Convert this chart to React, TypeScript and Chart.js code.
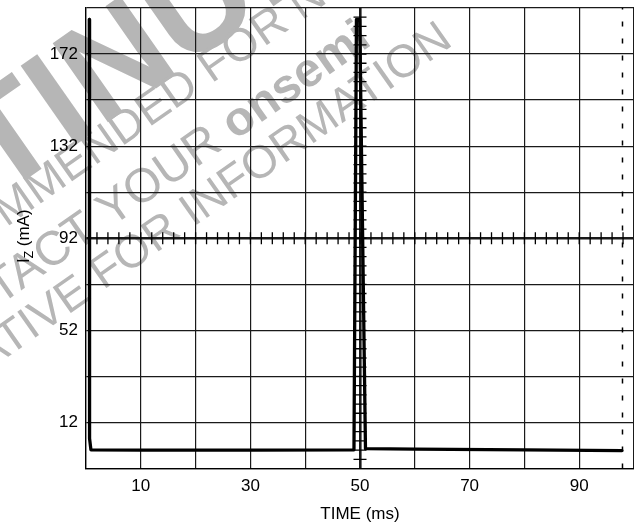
import React, { useEffect, useRef } from "react";
import { Chart, registerables } from "chart.js";

Chart.register(...registerables);

// ---- data ----
const traceTime = [0.6, 0.65, 0.9, 10, 30, 48.9, 49.35, 49.95, 51.0, 60, 80, 97.8];
const traceCurrent = [187, 5, 0.1, 0.0, 0.0, 0.1, 187, 187, 0.6, 0.4, 0.1, -0.2];
const xLabelValues = [10, 30, 50, 70, 90];
const yLabelValues = [12, 52, 92, 132, 172];
const cursorTime = [97.9, 97.9];
const cursorCurrent = [-8, 192];

const X_MIN = 0;
const X_MAX = 100;
const Y_MIN = -8;
const Y_MAX = 192;
const X_CENTER = 50;
const Y_CENTER = 92;
const X_MINOR = 2;
const Y_MINOR = 4;

const FONT = "'Liberation Sans', Arial, sans-serif";
const FS = 17;
const WM_FONT = "'Liberation Sans', Arial, sans-serif";
const WM_ANGLE = (-35 * Math.PI) / 180;

const watermarkPlugin = {
  id: "watermark",
  beforeDraw(chart: any) {
    const ctx: CanvasRenderingContext2D = chart.ctx;
    ctx.save();
    ctx.fillStyle = "rgb(182,182,182)";
    ctx.rotate(WM_ANGLE);
    ctx.textAlign = "left";
    ctx.textBaseline = "alphabetic";

    const anchored = (text: string, idx: number, start: number, base: number) => {
      const x = start - ctx.measureText(text.slice(0, idx)).width;
      ctx.fillText(text, x, base);
      return x;
    };

    ctx.font = `bold 140px ${WM_FONT}`;
    anchored("DISCONTINUED", 7, -30, 162);

    ctx.font = `46px ${WM_FONT}`;
    anchored("NOT RECOMMENDED FOR NEW DESIGN", 11, -18, 190);

    ctx.font = `48px ${WM_FONT}`;
    const l3 = "PLEASE CONTACT YOUR ";
    const x3 = anchored(l3, 15, -40, 250);
    const w3 = ctx.measureText(l3).width;
    ctx.font = `bold 48px ${WM_FONT}`;
    ctx.fillText("onsemi", x3 + w3, 250);

    ctx.font = `46px ${WM_FONT}`;
    anchored("REPRESENTATIVE FOR INFORMATION", 19, 28, 297);
    ctx.restore();
  },
};

const overlayPlugin = {
  id: "overlay",
  afterDraw(chart: any) {
    const ctx: CanvasRenderingContext2D = chart.ctx;
    const x = chart.scales.x;
    const y = chart.scales.y;
    const cx = x.getPixelForValue(X_CENTER);
    const cy = y.getPixelForValue(Y_CENTER);
    ctx.save();
    ctx.strokeStyle = "#000";
    ctx.lineWidth = 1.3;
    ctx.beginPath();
    for (let t = X_MIN + X_MINOR; t < X_MAX; t += X_MINOR) {
      const px = x.getPixelForValue(t);
      ctx.moveTo(px, cy - 6);
      ctx.lineTo(px, cy + 6);
    }
    for (let v = Y_MIN + Y_MINOR; v < Y_MAX; v += Y_MINOR) {
      const py = y.getPixelForValue(v);
      ctx.moveTo(cx - 6.5, py);
      ctx.lineTo(cx + 6.5, py);
    }
    ctx.stroke();

    // y-axis title with subscript
    ctx.fillStyle = "#000";
    ctx.translate(29, y.getPixelForValue(Y_CENTER) - 2);
    ctx.rotate(-Math.PI / 2);
    ctx.textAlign = "left";
    ctx.textBaseline = "alphabetic";
    ctx.font = `${FS}px ${FONT}`;
    const wI = ctx.measureText("I").width;
    const wR = ctx.measureText(" (mA)").width;
    ctx.font = `12px ${FONT}`;
    const wZ = ctx.measureText("Z").width;
    const x0 = -(wI + wZ + wR) / 2;
    ctx.font = `${FS}px ${FONT}`;
    ctx.fillText("I", x0, 0);
    ctx.font = `12px ${FONT}`;
    ctx.fillText("Z", x0 + wI, 3.5);
    ctx.font = `${FS}px ${FONT}`;
    ctx.fillText(" (mA)", x0 + wI + wZ, 0);
    ctx.restore();
  },
};

export default function App() {
  const ref = useRef<HTMLCanvasElement>(null);
  useEffect(() => {
    const canvas = ref.current;
    if (!canvas) return;
    const chart = new Chart(canvas, {
      type: "scatter",
      data: {
        datasets: [
          {
            data: traceTime.map((t, i) => ({ x: t, y: traceCurrent[i] })),
            showLine: true,
            borderColor: "#000",
            borderWidth: 3.3,
            pointRadius: 0,
            borderJoinStyle: "round",
            borderCapStyle: "round",
            tension: 0,
          },
          {
            data: cursorTime.map((t, i) => ({ x: t, y: cursorCurrent[i] })),
            showLine: true,
            borderColor: "#000",
            borderWidth: 1.5,
            borderDash: [5, 12],
            pointRadius: 0,
          },
        ],
      } as any,
      options: {
        animation: false,
        responsive: false,
        maintainAspectRatio: false,
        events: [],
        layout: { padding: { top: 8, left: 0, right: 0, bottom: 0 } },
        plugins: {
          legend: { display: false },
          tooltip: { enabled: false },
          title: { display: false },
        },
        scales: {
          x: {
            type: "linear",
            min: X_MIN,
            max: X_MAX,
            ticks: {
              stepSize: 10,
              autoSkip: false,
              maxRotation: 0,
              color: "#000",
              font: { family: FONT, size: FS },
              padding: 8,
              callback: (v: any) => (xLabelValues.includes(Number(v)) ? String(v) : ""),
            },
            grid: {
              color: "#1a1a1a",
              lineWidth: (c: any) => (c.tick && c.tick.value === X_CENTER ? 2.6 : 1.2),
              drawTicks: false,
            },
            border: { display: true, color: "#000", width: 1.3 },
            title: {
              display: true,
              text: "TIME (ms)",
              color: "#000",
              font: { family: FONT, size: FS },
              padding: { top: 0, bottom: 4 },
            },
            afterFit: (s: any) => {
              s.height = 60.5;
              s.paddingLeft = 0;
              s.paddingRight = 0;
            },
          },
          y: {
            type: "linear",
            min: Y_MIN,
            max: Y_MAX,
            ticks: {
              stepSize: 20,
              autoSkip: false,
              color: "#000",
              font: { family: FONT, size: FS },
              padding: 8,
              callback: (v: any) => (yLabelValues.includes(Number(v)) ? String(v) : ""),
            },
            grid: {
              color: "#1a1a1a",
              lineWidth: (c: any) => (c.tick && c.tick.value === Y_CENTER ? 2.6 : 1.2),
              drawTicks: false,
            },
            border: { display: true, color: "#000", width: 1.3 },
            title: { display: false },
            afterFit: (s: any) => {
              s.width = 86;
              s.paddingTop = 0;
              s.paddingBottom = 0;
            },
          },
        },
      } as any,
      plugins: [watermarkPlugin, overlayPlugin],
    });
    return () => chart.destroy();
  }, []);

  return (
    <div style={{ position: "fixed", left: 0, top: 0, width: 634, height: 529, background: "#fff" }}>
      <canvas ref={ref} width={634} height={529} style={{ width: 634, height: 529, display: "block" }} />
    </div>
  );
}
